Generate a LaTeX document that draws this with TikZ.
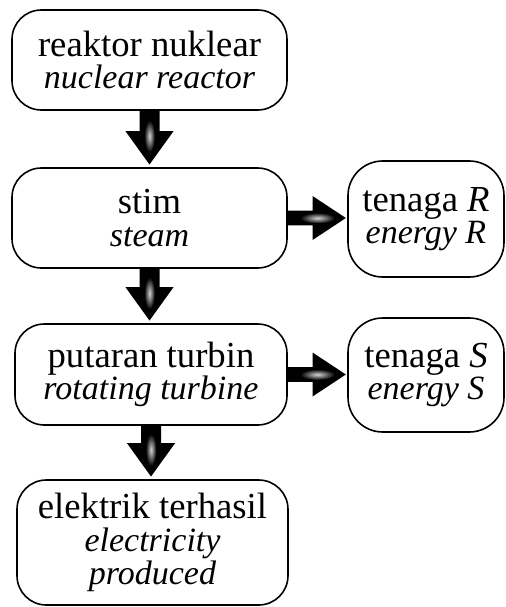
\documentclass[tikz,border=0pt]{standalone}
\usepackage{fontspec}
\setmainfont{Liberation Serif}
\usetikzlibrary{calc}
\tikzset{
  box/.style={draw, line width=1.2pt, rounded corners=22pt, inner sep=0pt, align=center,
    font=\fontsize{27.5}{24.5}\selectfont},
  sidebox/.style={box, rounded corners=26pt},
}
\newcommand\en[1]{{\fontsize{25.5}{24.5}\selectfont\itshape #1}}
\newcommand\varr[2]{%
  \fill let \p1=(#1.south), \p2=(#2.north) in
    (\x1-7.5pt,\y1) -- (\x1+7.5pt,\y1) -- (\x1+7.5pt,\y2+27pt) -- (\x1+18pt,\y2+27pt)
    -- (\x1,\y2+2pt) -- (\x1-18pt,\y2+27pt) -- (\x1-7.5pt,\y2+27pt) -- cycle;
  \shade[inner color=gray!35,outer color=black] let \p1=(#1.south), \p2=(#2.north) in
    ($(\x1,\y1)!0.45!(\x1,\y2)$) ellipse [x radius=4pt, y radius=12pt];
}
\newcommand\harr[2]{%
  \fill let \p1=(#1.east), \p2=(#2.west) in
    (\x1,\y1-5.6pt) -- (\x1,\y1+5.6pt) -- (\x2-26pt,\y1+5.6pt) -- (\x2-26pt,\y1+16.5pt)
    -- (\x2-1pt,\y1) -- (\x2-26pt,\y1-16.5pt) -- (\x2-26pt,\y1-5.6pt) -- cycle;
  \shade[inner color=gray!35,outer color=black] let \p1=(#1.east), \p2=(#2.west) in
    ($(\x1,\y1)!0.5!(\x2,\y1)$) ellipse [x radius=13pt, y radius=4pt];
}
\begin{document}
\begin{tikzpicture}[x=0.75pt,y=-0.75pt]
\useasboundingbox (0,0) rectangle (506,607);
\node[box, minimum width=206.25pt, minimum height=75pt] (b1) at (149.5,60)
  {reaktor nuklear\\ \en{nuclear reactor}};
\node[box, minimum width=206.25pt, minimum height=75pt] (b2) at (149.5,218)
  {stim\\ \en{steam}};
\node[box, minimum width=204pt, minimum height=75.75pt] (b3) at (151,374.5)
  {putaran turbin\\ \en{rotating turbine}};
\node[box, minimum width=203.25pt, minimum height=93.75pt] (b4) at (152.5,542.5)
  {elektrik terhasil\\ \en{electricity}\\ \en{produced}};
\node[sidebox, minimum width=117pt, minimum height=87pt] (r) at (426,219)
  {tenaga \textit{R}\\ \en{energy R}};
\node[sidebox, minimum width=117pt, minimum height=85.5pt] (s) at (426,375)
  {tenaga \textit{S}\\ \en{energy S}};
\varr{b1}{b2}
\varr{b2}{b3}
\varr{b3}{b4}
\harr{b2}{r}
\harr{b3}{s}
\end{tikzpicture}
\end{document}
